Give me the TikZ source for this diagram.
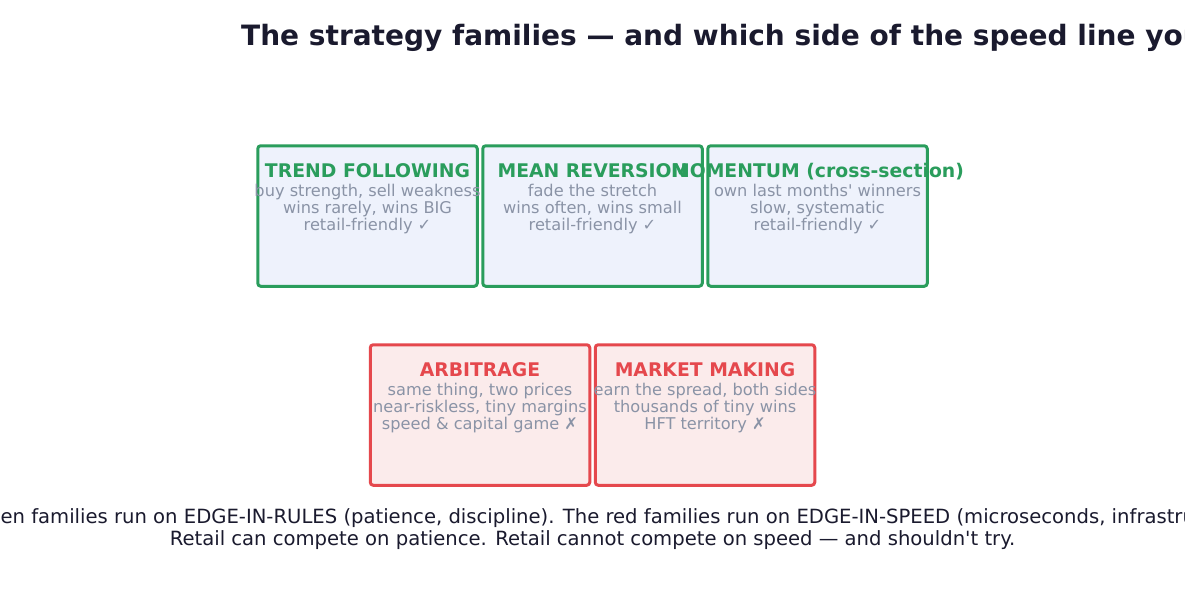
\documentclass[tikz,border=0pt]{standalone}
\usepackage{fontspec}
\setmainfont{DejaVu Sans}
\usetikzlibrary{positioning}
\definecolor{titleink}{HTML}{1A1A2E}
\definecolor{greenline}{HTML}{2A9D5C}
\definecolor{bluefill}{HTML}{EEF2FC}
\definecolor{redline}{HTML}{E5484D}
\definecolor{redfill}{HTML}{FBEBEB}
\definecolor{notegray}{HTML}{8A93A6}

\begin{document}
\begin{tikzpicture}[
    x=1pt, y=-1pt,
    family/.style={
        draw,
        rectangle,
        rounded corners=3pt,
        line width=3pt,
        minimum width=219.5pt,
        minimum height=140.5pt,
        inner sep=0pt,
    },
    greenfamily/.style={family, draw=greenline, fill=bluefill},
    redfamily/.style={family, draw=redline, fill=redfill},
    familyname/.style={
        font=\fontsize{18.8}{20}\selectfont\bfseries,
        inner sep=0pt,
        anchor=base,
    },
    familynotes/.style={
        font=\fontsize{16.2}{17}\selectfont,
        text=notegray,
        align=center,
        inner sep=0pt,
    },
]
\clip (0,0) rectangle (1185,615);
\fill [white] (0,0) rectangle (1185,615);

% --- title ---
\node [
    anchor=west,
    inner sep=0pt,
    text=titleink,
    font=\fontsize{28}{30}\selectfont\bfseries,
] (title) at (241,38) {The strategy families — and which side of the speed line you\textquotesingle re on};

% --- green families (edge in rules) ---
\node [greenfamily] (trend) at (367.5,216) {};
\node [greenfamily, right=2.5pt of trend] (meanrev) {};
\node [greenfamily, right=2.5pt of meanrev] (momentum) {};

\node [familyname, text=greenline] (trendname) at ([yshift=-33.5pt]trend.north) {TREND FOLLOWING};
\node [familynotes] (trendnotes) at ([yshift=-64.5pt]trend.north) {buy strength, sell weakness\\wins rarely, wins BIG\\retail-friendly ✓};

\node [familyname, text=greenline] (meanrevname) at ([yshift=-33.5pt]meanrev.north) {MEAN REVERSION};
\node [familynotes] (meanrevnotes) at ([yshift=-64.5pt]meanrev.north) {fade the stretch\\wins often, wins small\\retail-friendly ✓};

\node [familyname, text=greenline] (momentumname) at ([yshift=-33.5pt]momentum.north) {MOMENTUM (cross-section)};
\node [familynotes] (momentumnotes) at ([yshift=-64.5pt]momentum.north) {own last months\textquotesingle{} winners\\slow, systematic\\retail-friendly ✓};

% --- red families (edge in speed) ---
\node [redfamily] (arbitrage) at (480,415) {};
\node [redfamily, right=2.5pt of arbitrage] (marketmaking) {};

\node [familyname, text=redline] (arbitragename) at ([yshift=-33.5pt]arbitrage.north) {ARBITRAGE};
\node [familynotes] (arbitragenotes) at ([yshift=-64.5pt]arbitrage.north) {same thing, two prices\\near-riskless, tiny margins\\speed \& capital game ✗};

\node [familyname, text=redline] (marketmakingname) at ([yshift=-33.5pt]marketmaking.north) {MARKET MAKING};
\node [familynotes] (marketmakingnotes) at ([yshift=-64.5pt]marketmaking.north) {earn the spread, both sides\\thousands of tiny wins\\HFT territory ✗};

% --- verdict ---
\node [
    align=center,
    inner sep=0pt,
    text=titleink,
    font=\fontsize{19.6}{22}\selectfont,
] (verdict) at (592.5,529) {The green families run on EDGE-IN-RULES (patience, discipline). The red families run on EDGE-IN-SPEED (microseconds, infrastructure).\\Retail can compete on patience. Retail cannot compete on speed — and shouldn\textquotesingle t try.};

\end{tikzpicture}
\end{document}
